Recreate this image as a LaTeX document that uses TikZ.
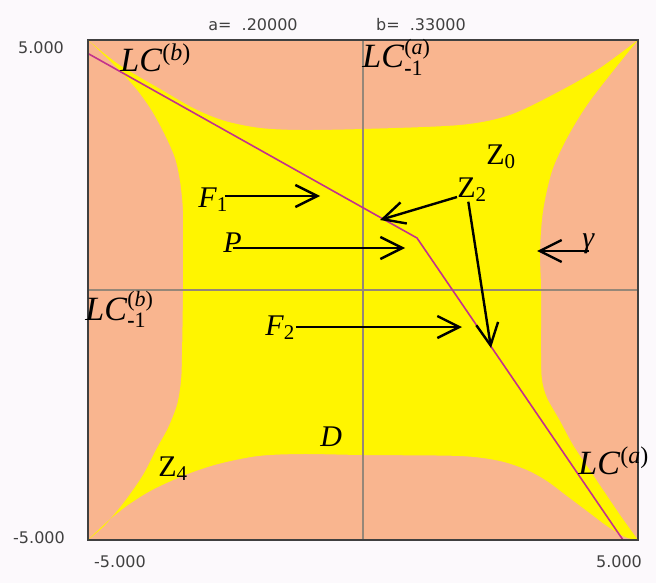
\documentclass[tikz,border=0pt]{standalone}
\usepackage{fontspec}
\setmainfont{Liberation Serif}
\newfontfamily\tickfont{DejaVu Sans}
\usetikzlibrary{arrows.meta}

\definecolor{salmon}{RGB}{249,181,143}
\definecolor{basin}{RGB}{255,245,0}
\definecolor{paper}{RGB}{252,249,252}
\definecolor{lcline}{RGB}{195,50,140}
\definecolor{axisgray}{RGB}{150,135,120}

\newcommand{\LCup}[1]{\textit{LC}\raisebox{0.3em}{\fontsize{12}{12}\selectfont(\textit{#1})}}
\newcommand{\LCdown}[1]{\textit{LC}\rlap{\raisebox{0.4em}{\fontsize{11}{11}\selectfont(\textit{#1})}}\raisebox{-0.22em}{\fontsize{11}{11}\selectfont\textbf{-}1}}

\begin{document}
\begin{tikzpicture}[
			x=0.5pt, y=-0.5pt,
			lab/.style={inner sep=0pt, anchor=base west, font=\fontsize{15}{15}\selectfont},
			lclab/.style={inner sep=0pt, anchor=base west, font=\fontsize{17}{17}\selectfont},
			tick/.style={inner sep=0pt, font=\tickfont\fontsize{8}{8}\selectfont, text=black!75},
			arrow/.style={-{Straight Barb[length=11pt,width=11pt]}, line width=1.2pt}
			]
			\useasboundingbox[fill=paper] (0,0) rectangle (656,583);
			
			% Regioni
			\fill[salmon] (88,40) rectangle (638,540);
			\fill[basin] plot[smooth, tension=0.5] coordinates {(88,40) (118,64) (160,89) (195,109) (225,121) (260,128) (300,130) (363,129) (460,125) (510,115) (560,91) (600,68) (638,40)}
				-- plot[smooth, tension=0.5] coordinates {(638,40) (613,71) (587,105) (567,138) (552,171) (543,211) (540,251) (541,290) (541,355) (542,380) (547,398) (560,421) (573,445) (593,475) (620,515) (638,540)}
				-- plot[smooth, tension=0.5] coordinates {(638,540) (625,537) (607,526) (587,511) (567,496) (547,481) (527,470) (500,461) (460,456) (363,455) (302,454) (258,456) (218,464) (185,475) (152,490) (128,505) (108,521) (88,540)}
				-- plot[smooth, tension=0.5] coordinates {(88,540) (105,525) (125,501) (143,475) (157,448) (168,428) (177,405) (181,381) (182,355) (183,291) (183,255) (183,211) (180,181) (175,158) (165,135) (152,111) (138,91) (122,73) (105,56) (88,40)}
				-- cycle;
			
			% Assi e cornice
			\draw[axisgray, line width=0.7pt] (363,40) -- (363,540);
			\draw[axisgray, line width=0.7pt] (88,290) -- (638,290);
			\draw[lcline, line width=0.8pt] (88,53.5) -- (417,238) -- (623,540);
			\draw[black!75, line width=0.8pt] (88,40) rectangle (638,540);
			
			% Valori
			\node[tick] (ymax) at (41,48) {5.000};
			\node[tick] (ymin) at (39,538) {-5.000};
			\node[tick] (xmin) at (120,562) {-5.000};
			\node[tick] (xmax) at (619,562) {5.000};
			\node[tick] (para) at (253,25) {a=\ \ .20000};
			\node[tick] (parb) at (421,25) {b=\ \ .33000};
			
			% Etichette
			\node[lclab] (lcb) at (120,71) {\LCup{b}};
			\node[lclab] (lcam) at (362,68) {\LCdown{a}};
			\node[lclab] (lcbm) at (85,320) {\LCdown{b}};
			\node[lclab] (lca) at (578,474) {\LCup{a}};
			\node[lab] (F1) at (198,207) {\textit{F}\textsubscript{1}};
			\node[lab] (P) at (223,252) {\textit{P}};
			\node[lab] (Z0) at (486,164) {Z\textsubscript{0}};
			\node[lab] (Z2) at (457,197) {Z\textsubscript{2}};
			\node[lab] (gam) at (582,247) {\textit{γ}};
			\node[lab] (F2) at (265,335) {\textit{F}\textsubscript{2}};
			\node[lab] (D) at (320,446) {\textit{D}};
			\node[lab] (Z4) at (158,476) {Z\textsubscript{4}};
			
			% Frecce
			\coordinate (f1tip) at (320,196);
			\coordinate (ptip) at (405,248);
			\coordinate (f2tip) at (462,327);
			\coordinate (z2tipa) at (380,220);
			\coordinate (z2tipb) at (491,348);
			\coordinate (gtip) at (537,251);
			\draw[arrow] ([xshift=-2pt]F1.east |- f1tip) -- (f1tip);
			\draw[arrow] (P.center |- ptip) -- (ptip);
			\draw[arrow] (F2.east |- f2tip) -- (f2tip);
			\draw[arrow] (Z2.base west) -- (z2tipa);
			\draw[arrow] ([xshift=-2pt]Z2.south) -- (z2tipb);
			\draw[arrow] (gam.south |- gtip) -- (gtip);
		\end{tikzpicture}
\end{document}
